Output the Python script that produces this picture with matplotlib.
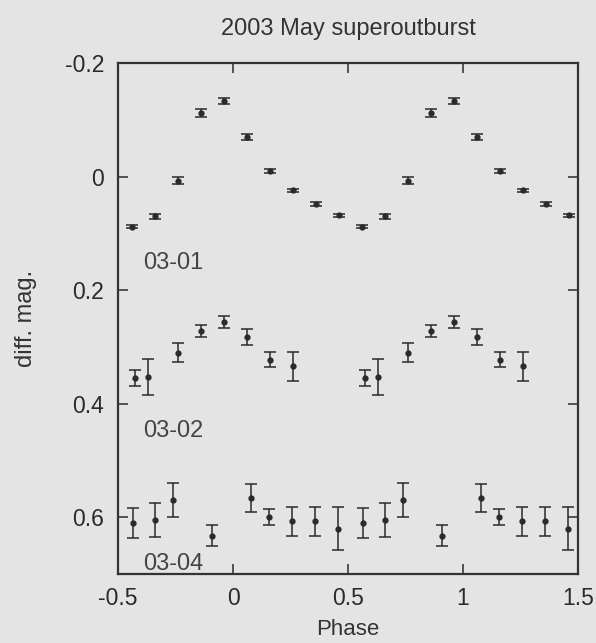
import numpy as np
import matplotlib
matplotlib.use('Agg')
import matplotlib.pyplot as plt

# phase-binned light curves (phase in 0..1), plotted twice over -0.5..1.5
phase_0301 = [0.06, 0.16, 0.26, 0.36, 0.46, 0.56, 0.66, 0.76, 0.86, 0.96]
mag_0301 = [-0.070, -0.010, 0.024, 0.048, 0.068, 0.088, 0.070, 0.007, -0.112, -0.133]
err_0301 = [0.005, 0.004, 0.003, 0.004, 0.003, 0.003, 0.005, 0.006, 0.007, 0.005]

phase_0302 = [0.06, 0.16, 0.26, 0.575, 0.63, 0.76, 0.86, 0.96]
mag_0302 = [0.282, 0.322, 0.334, 0.355, 0.353, 0.310, 0.272, 0.256]
err_0302 = [0.014, 0.013, 0.026, 0.014, 0.032, 0.017, 0.011, 0.010]

phase_0304 = [0.08, 0.155, 0.255, 0.355, 0.455, 0.565, 0.66, 0.74, 0.91]
mag_0304 = [0.566, 0.599, 0.607, 0.607, 0.620, 0.610, 0.604, 0.570, 0.632]
err_0304 = [0.025, 0.014, 0.026, 0.026, 0.038, 0.026, 0.030, 0.030, 0.019]

labels = ['03-01', '03-02', '03-04']
label_y = [0.152, 0.448, 0.682]

bg = '#e4e4e4'
ink = '#2a2a2a'
plt.rcParams['font.family'] = ['Liberation Sans', 'DejaVu Sans']

fig = plt.figure(figsize=(5.96, 6.43), dpi=100, facecolor=bg)
ax = fig.add_axes([0.198, 0.107, 0.772, 0.795], facecolor=bg)


def fold(ph, mg, er):
    x, y, e = [], [], []
    for p, m, s in zip(ph, mg, er):
        for shift in (-1, 0, 1):
            if -0.5 <= p + shift <= 1.5:
                x.append(p + shift)
                y.append(m)
                e.append(s)
    return x, y, e


for ph, mg, er in [(phase_0301, mag_0301, err_0301),
                   (phase_0302, mag_0302, err_0302),
                   (phase_0304, mag_0304, err_0304)]:
    x, y, e = fold(ph, mg, er)
    ax.errorbar(x, y, yerr=e, fmt='o', ms=3.5, color=ink, ecolor=ink,
                elinewidth=1.1, capsize=4, capthick=1.1)

for lab, yy in zip(labels, label_y):
    ax.text(-0.39, yy, lab, fontsize=17, color='#444444', va='center', ha='left')

ax.set_xlim(-0.5, 1.5)
ax.set_ylim(0.7, -0.2)
ax.set_xticks([-0.5, 0, 0.5, 1, 1.5])
ax.set_xticklabels(['-0.5', '0', '0.5', '1', '1.5'])
ax.set_yticks([-0.2, 0, 0.2, 0.4, 0.6])
ax.set_yticklabels(['-0.2', '0', '0.2', '0.4', '0.6'])
ax.tick_params(direction='in', top=True, right=True, length=7, width=1.1,
               labelsize=16.5, colors=ink)
ax.tick_params(axis='x', pad=9)
ax.tick_params(axis='y', pad=10)
for sp in ax.spines.values():
    sp.set_color('#333333')
    sp.set_linewidth(1.6)

ax.set_xlabel('Phase', fontsize=16, color='#333333', labelpad=7)
ax.set_ylabel('diff. mag.', fontsize=17, color='#333333', labelpad=20)
ax.set_title('2003 May superoutburst', fontsize=17, color='#333333', pad=20)

fig.savefig('out.png', dpi=100, facecolor=bg)
